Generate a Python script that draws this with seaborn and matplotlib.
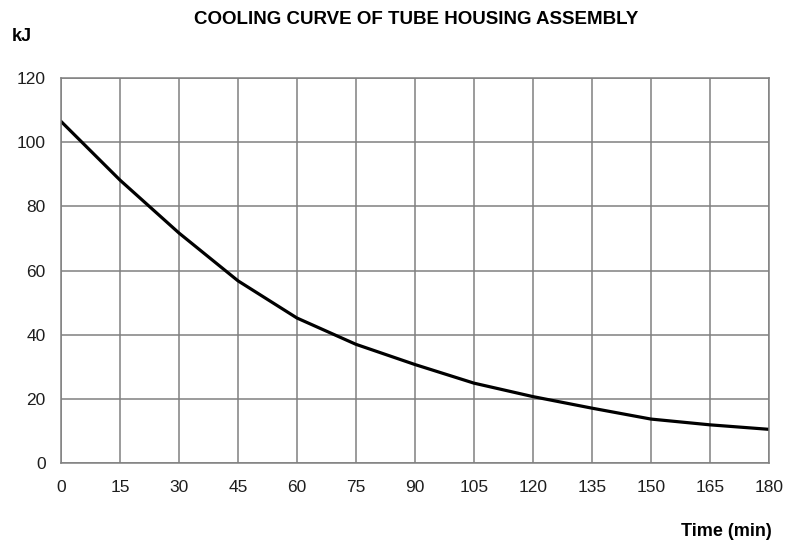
import matplotlib
matplotlib.use("Agg")
import matplotlib.pyplot as plt
import seaborn as sns
import pandas as pd

# values
time_min = [0, 15, 30, 45, 60, 75, 90, 105, 120, 135, 150, 165, 180]
energy_kj = [106.5, 88.2, 71.7, 56.8, 45.2, 37.0, 30.7, 24.9, 20.7, 17.1, 13.7, 11.9, 10.5]
x_ticks = list(range(0, 181, 15))
y_ticks = list(range(0, 121, 20))

df = pd.DataFrame({"time": time_min, "kj": energy_kj})

sns.set_theme(style="white")
plt.rcParams["font.family"] = ["Liberation Sans", "DejaVu Sans"]

fig = plt.figure(figsize=(7.87, 5.46), dpi=100)
ax = fig.add_axes([0.0775, 0.152, 0.8995, 0.705])

sns.lineplot(data=df, x="time", y="kj", ax=ax, color="black", linewidth=2.3)

ax.set_xlim(0, 180)
ax.set_ylim(0, 120)
ax.set_xticks(x_ticks)
ax.set_yticks(y_ticks)
ax.grid(True, color="#808080", linewidth=1.1)
ax.set_axisbelow(True)
for s in ax.spines.values():
    s.set_color("#808080")
    s.set_linewidth(1.1)
ax.tick_params(axis="both", direction="out", length=5, width=1.1, color="#808080",
               labelsize=12.5, labelcolor="#1e1e1e")
ax.tick_params(axis="x", pad=7)
ax.tick_params(axis="y", pad=6)
ax.set_xlabel("")
ax.set_ylabel("")

# titles drawn as free text, like in the original
fig.text(0.529, 0.965, "COOLING CURVE OF TUBE HOUSING ASSEMBLY", ha="center", va="center",
         fontsize=13.5, fontweight="bold", color="black")
fig.text(0.015, 0.933, "kJ", ha="left", va="center", fontsize=13, fontweight="bold", color="black")
fig.text(0.981, 0.026, "Time (min)", ha="right", va="center", fontsize=13, fontweight="bold",
         color="black")

fig.savefig("out.png", dpi=100)
